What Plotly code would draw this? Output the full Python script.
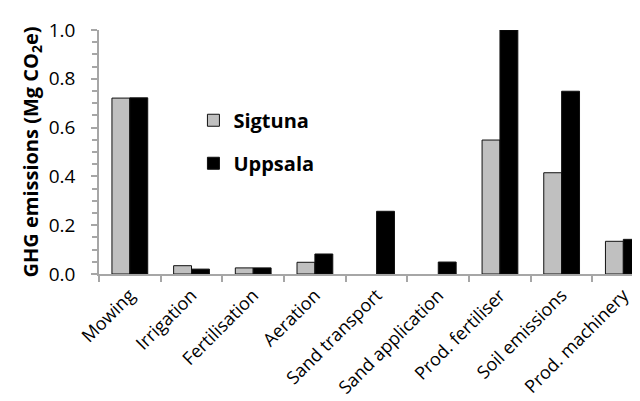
import plotly.graph_objects as go

categories = ["Mowing", "Irrigation", "Fertilisation", "Aeration", "Sand transport",
              "Sand application", "Prod. fertiliser", "Soil emissions", "Prod. machinery"]
sigtuna = [0.721, 0.034, 0.025, 0.048, None, None, 0.549, 0.415, 0.134]
uppsala = [0.722, 0.020, 0.025, 0.082, 0.257, 0.049, 1.0, 0.749, 0.142]
y_ticks = [0.0, 0.2, 0.4, 0.6, 0.8, 1.0]
y_labels = ["0.0", "0.2", "0.4", "0.6", "0.8", "1.0"]

font_family = "Open Sans, Liberation Sans, sans-serif"

fig = go.Figure()
fig.add_trace(go.Bar(x=categories, y=sigtuna, name="<b>Sigtuna</b>",
                     marker=dict(color="#c0c0c0", line=dict(color="#111111", width=1)),
                     legendgroup="a"))
fig.add_trace(go.Bar(x=categories, y=uppsala, name="<b>Uppsala</b>",
                     marker=dict(color="#000000", line=dict(color="#111111", width=1)),
                     legendgroup="b"))

fig.update_layout(
    width=640, height=401,
    margin=dict(l=91, r=0, t=22, b=135),
    paper_bgcolor="white", plot_bgcolor="white",
    barmode="group", bargap=0.42, bargroupgap=0,
    font=dict(family=font_family, color="#000000"),
    showlegend=True,
    legend=dict(x=0.172, y=0.71, xanchor="left", yanchor="top",
                font=dict(size=20, family=font_family, color="#000000"),
                traceorder="grouped", tracegroupgap=14,
                bgcolor="rgba(0,0,0,0)", itemwidth=30),
    xaxis=dict(range=[-0.5, 8.4], showline=True, linecolor="#a6a6a6", linewidth=1.5,
               ticks="outside", tickson="boundaries", ticklen=6, tickcolor="#a6a6a6",
               tickwidth=1.5, tickangle=-45, tickfont=dict(size=18, family=font_family),
               ticklabelstandoff=2, automargin=False,
               showgrid=False, zeroline=False),
    yaxis=dict(range=[0, 1.0], tickvals=y_ticks, ticktext=y_labels, showline=True,
               linecolor="#a6a6a6", linewidth=1.5, ticks="outside", ticklen=6,
               tickcolor="#a6a6a6", tickwidth=1.5,
               tickfont=dict(size=19, family=font_family),
               ticklabelstandoff=12, automargin=False,
               minor=dict(dtick=0.05, ticks="outside", ticklen=5, tickcolor="#a6a6a6", tickwidth=1.5),
               showgrid=False, zeroline=False,
               title=dict(text="<b>GHG emissions (Mg CO<sub>2</sub>e)</b>",
                          font=dict(size=20, family=font_family), standoff=5)),
)

fig.write_html("out.html")
